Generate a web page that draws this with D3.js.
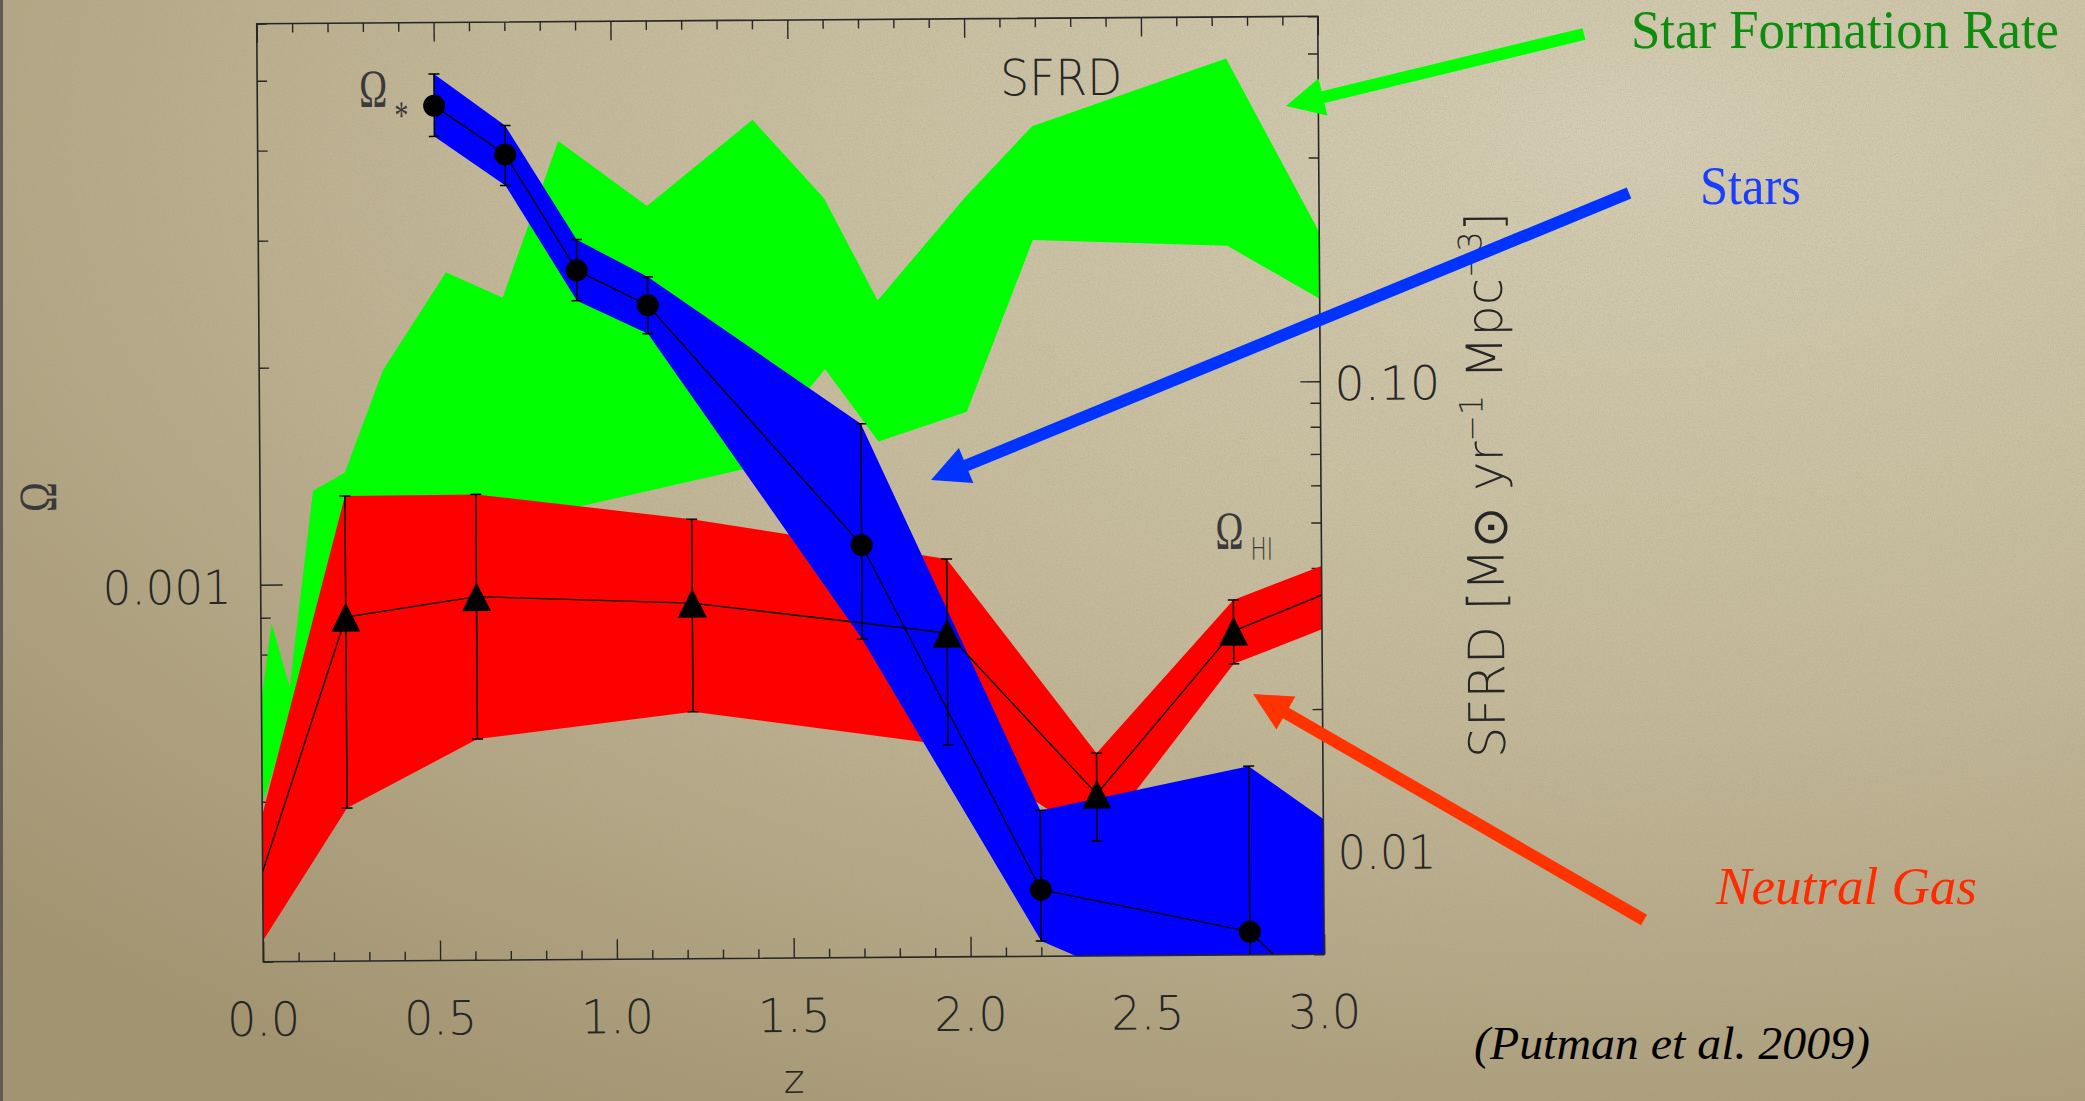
<!DOCTYPE html>
<html>
<head>
<meta charset="utf-8">
<script src="https://cdn.jsdelivr.net/npm/d3@7"></script>
<style>
  html, body { margin: 0; padding: 0; overflow: hidden; background: #bfb493; }
  svg { display: block; }
</style>
</head>
<body>
<svg id="chart" width="2085" height="1101"></svg>
<script>
// -----------------------------------------------------------------------------
// Data (Putman et al. 2009, Omega vs z)
// -----------------------------------------------------------------------------

// neutral gas, Omega_HI (left axis); first/last entries are band ends without a symbol
const hiZ      = [0.00, 0.24, 0.61, 1.22, 1.94, 2.36, 2.75, 3.00];
const hiVal    = [4.00e-4, 9.00e-4, 9.58e-4, 9.34e-4, 8.44e-4, 5.03e-4, 8.44e-4, 9.45e-4];
const hiLo     = [3.21e-4, 4.89e-4, 6.08e-4, 6.60e-4, 5.90e-4, 4.33e-4, 7.60e-4, 8.47e-4];
const hiHi     = [4.79e-4, 1.325e-3, 1.328e-3, 1.221e-3, 1.069e-3, 5.73e-4, 9.32e-4, 1.037e-3];
const hiMarked = [false, true, true, true, true, true, true, false];

// stars, Omega_* (left axis)
const starZ      = [0.50, 0.70, 0.90, 1.10, 1.70, 2.20, 2.79, 3.00];
const starVal    = [4.60e-3, 3.93e-3, 2.71e-3, 2.42e-3, 1.12e-3, 3.71e-4, 3.23e-4, 2.56e-4];
const starLo     = [4.17e-3, 3.56e-3, 2.46e-3, 2.21e-3, 8.29e-4, 3.15e-4, 2.35e-4, 1.80e-4];
const starHi     = [5.09e-3, 4.31e-3, 2.99e-3, 2.65e-3, 1.65e-3, 4.78e-4, 5.48e-4, 4.62e-4];
const starMarked = [true, true, true, true, true, true, true, false];

// star formation rate density band (right axis, Msun/yr/Mpc^3)
const sfrdUpperZ = [0.00, 0.03, 0.08, 0.15, 0.24, 0.35, 0.53, 0.69, 0.85, 1.10, 1.40, 1.60, 1.75, 2.00, 2.19, 2.74, 3.00];
const sfrdUpper  = [0.0217, 0.0316, 0.0231, 0.0605, 0.0660, 0.109, 0.176, 0.155, 0.334, 0.242, 0.368, 0.250, 0.151, 0.250, 0.353, 0.489, 0.208];
const sfrdLowerZ = [0.00, 0.24, 0.90, 1.37, 1.60, 1.75, 2.00, 2.19, 2.74, 3.00];
const sfrdLower  = [0.0131, 0.0430, 0.0554, 0.0663, 0.108, 0.0755, 0.0871, 0.202, 0.195, 0.150];

// tick labels
const zTicks      = [0, 0.5, 1, 1.5, 2, 2.5, 3];
const omegaTicks  = [0.001];
const omegaLabels = ["0.001"];
const sfrdTicks   = [0.01, 0.1];
const sfrdLabels  = ["0.01", "0.10"];

// -----------------------------------------------------------------------------
// Layout
// -----------------------------------------------------------------------------
const W = 2085, H = 1101;
const plot = { left: 260, right: 1321, top: 20, bottom: 958 };
const tilt = -0.4;            // the pasted figure sits slightly rotated on the slide
const ink = "#262626";
const idlFont = "'DejaVu Sans', sans-serif";
const serif = "'Liberation Serif', 'Times New Roman', serif";

const svg = d3.select("#chart");
const defs = svg.append("defs");

const x  = d3.scaleLinear().domain([0, 3]).range([plot.left, plot.right]);
const yO = d3.scaleLog().domain([3e-4, 6e-3]).range([plot.bottom, plot.top]);
const yS = d3.scaleLog().domain([6e-3, 0.6]).range([plot.bottom, plot.top]);

// -----------------------------------------------------------------------------
// Paper background
// -----------------------------------------------------------------------------
const paper = defs.append("radialGradient").attr("id", "paper")
  .attr("cx", 0.78).attr("cy", 0.12).attr("r", 1.05);
paper.append("stop").attr("offset", 0).attr("stop-color", "#d6cfb5");
paper.append("stop").attr("offset", 0.5).attr("stop-color", "#c4b999");
paper.append("stop").attr("offset", 1).attr("stop-color", "#a39470");

const grain = defs.append("filter").attr("id", "grain")
  .attr("x", 0).attr("y", 0).attr("width", 1).attr("height", 1);
grain.append("feTurbulence").attr("type", "fractalNoise")
  .attr("baseFrequency", 0.75).attr("numOctaves", 2).attr("seed", 4);
grain.append("feColorMatrix").attr("type", "matrix")
  .attr("values", "0 0 0 0 0.35  0 0 0 0 0.31  0 0 0 0 0.22  0.6 0 0 0 -0.22");

svg.append("rect").attr("width", W).attr("height", H).attr("fill", "url(#paper)");
svg.append("rect").attr("width", W).attr("height", H).attr("filter", "url(#grain)");
svg.append("rect").attr("width", 3).attr("height", H).attr("fill", "#5c5b55");

// -----------------------------------------------------------------------------
// Figure (rotated group)
// -----------------------------------------------------------------------------
const fig = svg.append("g").attr("transform", `rotate(${tilt}, 790, 489)`);

defs.append("clipPath").attr("id", "plotClip")
  .append("rect")
  .attr("x", plot.left).attr("y", plot.top)
  .attr("width", plot.right - plot.left).attr("height", plot.bottom - plot.top);

// ticks ---------------------------------------------------------------------
function tickAxis(axisFn, scale, values, size, tx) {
  const g = fig.append("g").attr("transform", tx)
    .call(axisFn(scale).tickValues(values).tickSize(size).tickFormat(""));
  g.select(".domain").remove();
  g.selectAll("line").attr("stroke", ink).attr("stroke-width", 1.4);
}

const near = (a, b) => Math.abs(a - b) < 1e-9;
const zMinor = x.ticks(30).filter(v => !zTicks.some(t => near(t, v)));
const oMinor = yO.ticks().filter(v => !omegaTicks.some(t => near(t / v, 1)));
const sMinor = yS.ticks().filter(v => !sfrdTicks.some(t => near(t / v, 1)));

tickAxis(d3.axisBottom, x, zMinor, -9, `translate(0,${plot.bottom})`);
tickAxis(d3.axisBottom, x, zTicks, -20, `translate(0,${plot.bottom})`);
tickAxis(d3.axisTop, x, zMinor, -9, `translate(0,${plot.top})`);
tickAxis(d3.axisTop, x, zTicks, -19, `translate(0,${plot.top})`);
tickAxis(d3.axisLeft, yO, oMinor, -10, `translate(${plot.left},0)`);
tickAxis(d3.axisLeft, yO, omegaTicks, -22, `translate(${plot.left},0)`);
tickAxis(d3.axisRight, yS, sMinor, -10, `translate(${plot.right},0)`);
tickAxis(d3.axisRight, yS, sfrdTicks, -20, `translate(${plot.right},0)`);

// bands ---------------------------------------------------------------------
const bands = fig.append("g").attr("clip-path", "url(#plotClip)");

const sfrdPoly = sfrdUpperZ.map((z, i) => [x(z), yS(sfrdUpper[i])])
  .concat(sfrdLowerZ.map((z, i) => [x(z), yS(sfrdLower[i])]).reverse());
bands.append("path")
  .attr("d", d3.line().curve(d3.curveLinearClosed)(sfrdPoly))
  .attr("fill", "#00ff00");

const bandArea = d3.area().x(d => x(d.z)).y0(d => yO(d.lo)).y1(d => yO(d.hi));
const hiRows = hiZ.map((z, i) => ({ z, v: hiVal[i], lo: hiLo[i], hi: hiHi[i], m: hiMarked[i] }));
const starRows = starZ.map((z, i) => ({ z, v: starVal[i], lo: starLo[i], hi: starHi[i], m: starMarked[i] }));

bands.append("path").attr("d", bandArea(hiRows)).attr("fill", "#ff0000");
bands.append("path").attr("d", bandArea(starRows)).attr("fill", "#0000ff");

// lines, error bars, symbols -------------------------------------------------
const marks = fig.append("g").attr("clip-path", "url(#plotClip)");
const valLine = d3.line().x(d => x(d.z)).y(d => yO(d.v));

function series(rows, symbol) {
  marks.append("path").attr("d", valLine(rows))
    .attr("fill", "none").attr("stroke", "#000").attr("stroke-width", 1.4);

  const pts = rows.filter(d => d.m);
  const eb = marks.append("g").attr("stroke", "#000").attr("stroke-width", 1.5);
  eb.selectAll("line.bar").data(pts).join("line").attr("class", "bar")
    .attr("x1", d => x(d.z)).attr("x2", d => x(d.z))
    .attr("y1", d => yO(d.lo)).attr("y2", d => yO(d.hi));
  eb.selectAll("line.capHi").data(pts).join("line").attr("class", "capHi")
    .attr("x1", d => x(d.z) - 5.5).attr("x2", d => x(d.z) + 5.5)
    .attr("y1", d => yO(d.hi)).attr("y2", d => yO(d.hi));
  eb.selectAll("line.capLo").data(pts).join("line").attr("class", "capLo")
    .attr("x1", d => x(d.z) - 5.5).attr("x2", d => x(d.z) + 5.5)
    .attr("y1", d => yO(d.lo)).attr("y2", d => yO(d.lo));

  marks.append("g").selectAll("path").data(pts).join("path")
    .attr("transform", d => `translate(${x(d.z)},${yO(d.v)})`)
    .attr("d", symbol)
    .attr("fill", "#000");
}

// IDL-style triangle: centred on its bounding box, 29px wide and tall
const idlTriangle = {
  draw(ctx, size) {
    const h = Math.sqrt(size) / 2;
    ctx.moveTo(0, -h);
    ctx.lineTo(h, h);
    ctx.lineTo(-h, h);
    ctx.closePath();
  }
};

series(hiRows, d3.symbol(idlTriangle, 29 * 29)());
series(starRows, d3.symbol(d3.symbolCircle, Math.PI * 11 * 11)());

// frame ---------------------------------------------------------------------
fig.append("rect")
  .attr("x", plot.left).attr("y", plot.top)
  .attr("width", plot.right - plot.left).attr("height", plot.bottom - plot.top)
  .attr("fill", "none").attr("stroke", ink).attr("stroke-width", 1.6);

// figure text ---------------------------------------------------------------
function idlText(parent, str, size) {
  return parent.append("text").text(str)
    .attr("font-family", idlFont).attr("font-weight", 200)
    .attr("font-size", size).attr("fill", ink);
}

fig.append("g").selectAll("text").data(zTicks).join("text")
  .attr("x", d => x(d)).attr("y", 1032)
  .attr("text-anchor", "middle")
  .attr("font-family", idlFont).attr("font-weight", 200)
  .attr("font-size", 47).attr("fill", ink)
  .attr("textLength", 73).attr("lengthAdjust", "spacingAndGlyphs")
  .text(d => d3.format(".1f")(d));

idlText(fig, "z", 40).attr("x", 790).attr("y", 1093).attr("text-anchor", "middle");

fig.append("g").selectAll("text").data(omegaTicks).join("text")
  .attr("x", 231).attr("y", d => yO(d) + 19)
  .attr("text-anchor", "end")
  .attr("font-family", idlFont).attr("font-weight", 200)
  .attr("font-size", 47).attr("fill", ink)
  .attr("textLength", 129).attr("lengthAdjust", "spacingAndGlyphs")
  .text((d, i) => omegaLabels[i]);

fig.append("g").selectAll("text").data(sfrdTicks).join("text")
  .attr("x", 1335).attr("y", d => yS(d) + 19)
  .attr("font-family", idlFont).attr("font-weight", 200)
  .attr("font-size", 47).attr("fill", ink)
  .attr("textLength", (d, i) => sfrdLabels[i] === "0.10" ? 106 : 99)
  .attr("lengthAdjust", "spacingAndGlyphs")
  .text((d, i) => sfrdLabels[i]);

idlText(fig, "SFRD", 50).attr("x", 1003).attr("y", 97)
  .attr("textLength", 122).attr("lengthAdjust", "spacingAndGlyphs");

// right axis title, rotated
const rl = fig.append("text")
  .attr("font-family", idlFont).attr("font-weight", 200)
  .attr("font-size", 50).attr("fill", ink);
rl.append("tspan").text("SFRD [M");
rl.append("tspan").attr("dy", 4).text("\u2299");
rl.append("tspan").attr("dy", -4).text(" yr");
rl.append("tspan").attr("dy", -20).attr("font-size", 32).text("\u22121");
rl.append("tspan").attr("dy", 20).text(" Mpc");
rl.append("tspan").attr("dy", -20).attr("font-size", 32).text("\u22123");
rl.append("tspan").attr("dy", 20).text("]");
const rlLen = rl.node().getComputedTextLength();
rl.attr("transform", `translate(1503,763) rotate(-90) scale(${546 / rlLen},1)`);

// Omega labels (serif Omega, condensed like the original plot font)
const omegaInk = "#3a3a3a";
fig.append("text").text("\u03A9")
  .attr("transform", "translate(56,492) rotate(-90)")
  .attr("text-anchor", "middle")
  .attr("font-family", serif).attr("font-size", 54).attr("fill", omegaInk)
  .attr("textLength", 30).attr("lengthAdjust", "spacingAndGlyphs");

const squeeze = 0.7;
const oStar = fig.append("text")
  .attr("transform", `translate(362,104) scale(${squeeze},1)`)
  .attr("font-family", serif).attr("font-size", 54).attr("fill", omegaInk);
oStar.append("tspan").text("\u03A9");
oStar.append("tspan").attr("x", (397 - 362) / squeeze).attr("dy", 22)
  .attr("font-size", 40).text("*");

const oHI = fig.append("text")
  .attr("transform", `translate(1215,552) scale(${squeeze},1)`)
  .attr("font-family", serif).attr("font-size", 54).attr("fill", omegaInk);
oHI.append("tspan").text("\u03A9");
oHI.append("tspan").attr("x", (1250 - 1215) / squeeze).attr("dy", 11)
  .attr("font-family", idlFont).attr("font-weight", 200)
  .attr("font-size", 31).text("HI");

// -----------------------------------------------------------------------------
// Slide annotations (not rotated)
// -----------------------------------------------------------------------------
const arrows = [
  { tail: [1584, 34],  tip: [1286, 106], color: "#00ff00" },
  { tail: [1629, 193], tip: [931, 480],  color: "#0033ff" },
  { tail: [1644, 920], tip: [1253, 694], color: "#ff3300" }
];
const headLen = 38, headW = 38, shaftW = 12;

const ann = svg.append("g");
arrows.forEach(a => {
  const dx = a.tail[0] - a.tip[0], dy = a.tail[1] - a.tip[1];
  const len = Math.hypot(dx, dy);
  const ux = dx / len, uy = dy / len;
  const bx = a.tip[0] + ux * headLen, by = a.tip[1] + uy * headLen;
  ann.append("line")
    .attr("x1", a.tail[0]).attr("y1", a.tail[1])
    .attr("x2", bx - ux * 2).attr("y2", by - uy * 2)
    .attr("stroke", a.color).attr("stroke-width", shaftW);
  const head = [a.tip, [bx - uy * headW / 2, by + ux * headW / 2], [bx + uy * headW / 2, by - ux * headW / 2]];
  ann.append("path").attr("d", d3.line().curve(d3.curveLinearClosed)(head)).attr("fill", a.color);
});

function slideText(str, opts) {
  return ann.append("text").text(str)
    .attr("x", opts.x).attr("y", opts.y)
    .attr("font-family", serif).attr("font-size", opts.size)
    .attr("font-style", opts.italic ? "italic" : "normal")
    .attr("fill", opts.color)
    .attr("textLength", opts.w).attr("lengthAdjust", "spacingAndGlyphs");
}

slideText("Star Formation Rate", { x: 1631, y: 48, size: 54, w: 428, color: "#0d8c0d" });
slideText("Stars", { x: 1700, y: 204, size: 54, w: 101, color: "#1a3dff" });
slideText("Neutral Gas", { x: 1716, y: 904, size: 52, w: 261, color: "#ff2b00", italic: true });
slideText("(Putman et al. 2009)", { x: 1474, y: 1059, size: 46, w: 396, color: "#000", italic: true });
</script>
</body>
</html>
